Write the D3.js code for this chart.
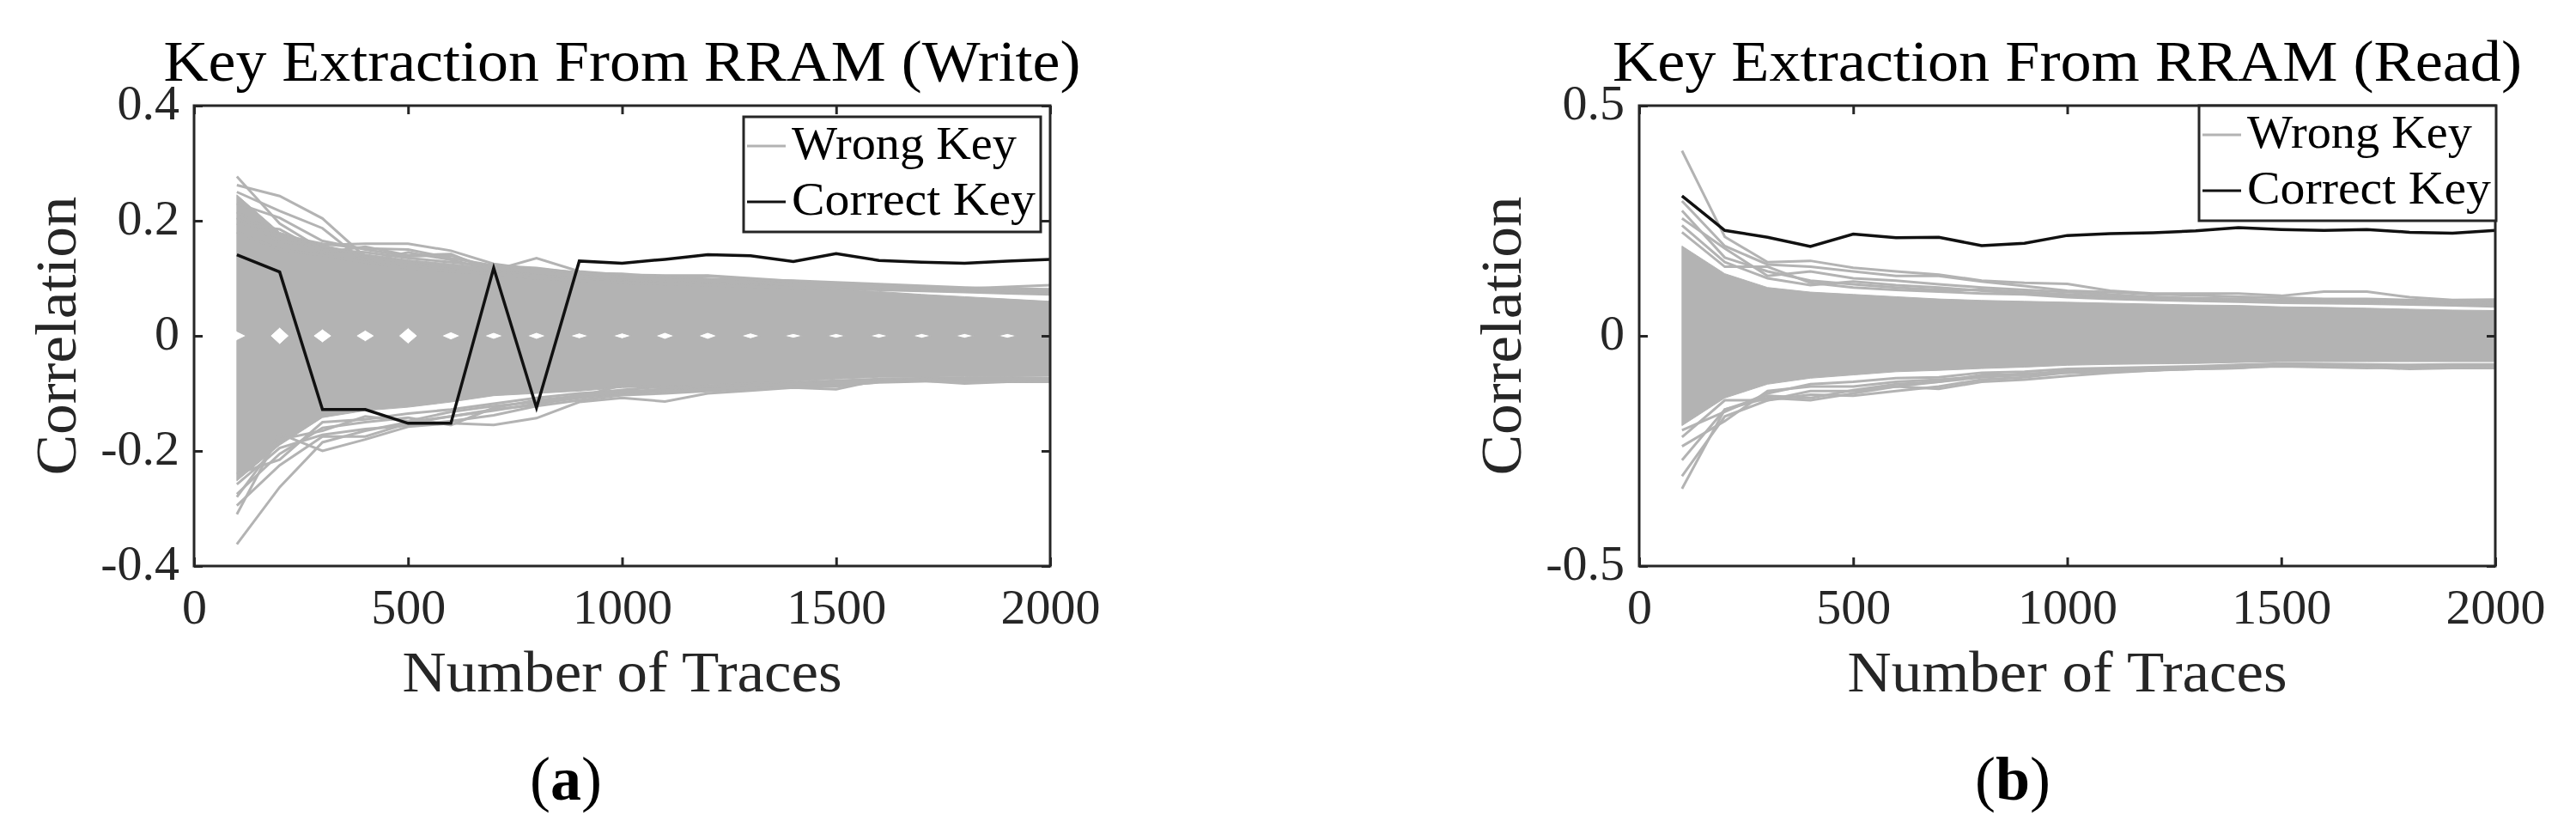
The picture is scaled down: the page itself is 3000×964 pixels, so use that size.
<!DOCTYPE html>
<html>
<head>
<meta charset="utf-8">
<script src="https://d3js.org/d3.v7.min.js"></script>
<style>
  body { margin: 0; background: #fff; }
  svg text { font-family: "Liberation Serif", "DejaVu Serif", serif; }
</style>
</head>
<body>
<div id="chart"></div>
<script>
// number of traces (x positions of every sample)
var traceCounts = [100,200,300,400,500,600,700,800,900,1000,1100,1200,1300,1400,1500,1600,1700,1800,1900,2000];

// ---- (a) write ----
var writeCorrectKey = [0.141,0.111,-0.128,-0.128,-0.152,-0.152,0.118,-0.125,0.130,0.126,0.133,0.141,0.139,0.129,0.143,0.131,0.128,0.126,0.130,0.133];
// dense part of the wrong key traces (upper / lower edge of the solid band)
var writeCoreHi = [0.245,0.180,0.158,0.142,0.132,0.125,0.118,0.112,0.105,0.100,0.097,0.094,0.090,0.086,0.081,0.077,0.072,0.068,0.064,0.060];
var writeCoreLo = [-0.252,-0.190,-0.142,-0.130,-0.124,-0.115,-0.104,-0.100,-0.096,-0.090,-0.088,-0.085,-0.082,-0.079,-0.075,-0.072,-0.072,-0.071,-0.071,-0.070];
// half height of the empty spot around zero at every sample
var writeZeroGap = [0.008,0.015,0.012,0.010,0.014,0.007,0.006,0.006,0.005,0.005,0.006,0.006,0.005,0.004,0.004,0.004,0.004,0.004,0.004,0.003];
// single wrong key traces standing out of the band
var writeWrongKeys = [
  [0.262,0.243,0.204,0.137,0.128,0.115,0.108,0.104,0.100,0.097,0.094,0.092,0.090,0.087,0.085,0.083,0.080,0.078,0.077,0.075],
  [0.250,0.217,0.187,0.128,0.118,0.112,0.108,0.100,0.096,0.092,0.090,0.088,0.086,0.084,0.082,0.080,0.078,0.076,0.074,0.072],
  [0.205,0.163,0.158,0.160,0.160,0.148,0.125,0.115,0.106,0.100,0.099,0.098,0.096,0.094,0.091,0.088,0.085,0.083,0.081,0.080],
  [0.180,0.150,0.140,0.128,0.145,0.132,0.114,0.135,0.112,0.106,0.105,0.105,0.100,0.095,0.090,0.086,0.085,0.082,0.085,0.088],
  [0.277,0.195,0.150,0.145,0.135,0.128,0.120,0.114,0.108,0.104,0.100,0.104,0.098,0.092,0.090,0.087,0.083,0.080,0.078,0.076],
  [0.230,0.205,0.165,0.150,0.138,0.140,0.117,0.110,0.104,0.098,0.096,0.094,0.092,0.090,0.086,0.083,0.081,0.079,0.076,0.074],
  [0.215,0.175,0.160,0.152,0.150,0.135,0.122,0.118,0.109,0.108,0.102,0.099,0.097,0.096,0.093,0.090,0.087,0.084,0.082,0.081],
  [0.195,0.185,0.145,0.155,0.140,0.142,0.112,0.116,0.110,0.101,0.098,0.096,0.094,0.088,0.088,0.085,0.082,0.081,0.079,0.078],
  [-0.362,-0.263,-0.185,-0.165,-0.150,-0.140,-0.130,-0.118,-0.108,-0.100,-0.096,-0.092,-0.090,-0.086,-0.083,-0.079,-0.078,-0.080,-0.080,-0.079],
  [-0.310,-0.170,-0.200,-0.180,-0.158,-0.152,-0.155,-0.143,-0.115,-0.108,-0.114,-0.100,-0.095,-0.090,-0.093,-0.077,-0.078,-0.083,-0.080,-0.080],
  [-0.295,-0.225,-0.175,-0.175,-0.152,-0.140,-0.128,-0.120,-0.102,-0.094,-0.088,-0.087,-0.083,-0.081,-0.078,-0.075,-0.074,-0.074,-0.073,-0.073],
  [-0.275,-0.205,-0.160,-0.150,-0.142,-0.155,-0.125,-0.112,-0.104,-0.098,-0.092,-0.090,-0.087,-0.083,-0.081,-0.077,-0.075,-0.076,-0.077,-0.075],
  [-0.258,-0.195,-0.172,-0.162,-0.156,-0.148,-0.138,-0.122,-0.112,-0.103,-0.100,-0.096,-0.092,-0.089,-0.086,-0.081,-0.079,-0.077,-0.078,-0.076],
  [-0.240,-0.215,-0.150,-0.145,-0.135,-0.128,-0.118,-0.108,-0.100,-0.095,-0.097,-0.093,-0.090,-0.088,-0.088,-0.080,-0.078,-0.081,-0.079,-0.078],
  [-0.280,-0.180,-0.165,-0.140,-0.148,-0.132,-0.122,-0.115,-0.106,-0.086,-0.090,-0.088,-0.086,-0.084,-0.082,-0.079,-0.076,-0.075,-0.075,-0.074]
];
var writeYTicks = [-0.4,-0.2,0,0.2,0.4];

// ---- (b) read ----
var readCorrectKey = [0.304,0.229,0.214,0.194,0.221,0.213,0.214,0.196,0.201,0.218,0.222,0.224,0.228,0.235,0.231,0.229,0.231,0.225,0.223,0.229];
var readCoreHi = [0.195,0.135,0.105,0.095,0.090,0.085,0.080,0.077,0.075,0.073,0.071,0.069,0.067,0.066,0.063,0.062,0.060,0.058,0.056,0.055];
var readCoreLo = [-0.195,-0.135,-0.105,-0.092,-0.085,-0.078,-0.075,-0.071,-0.068,-0.064,-0.062,-0.061,-0.060,-0.058,-0.056,-0.056,-0.056,-0.056,-0.056,-0.056];
var readWrongKeys = [
  [0.402,0.215,0.160,0.163,0.148,0.140,0.133,0.120,0.115,0.113,0.098,0.092,0.092,0.092,0.087,0.096,0.096,0.084,0.078,0.079],
  [0.293,0.195,0.155,0.150,0.140,0.130,0.130,0.118,0.108,0.098,0.095,0.090,0.088,0.085,0.083,0.080,0.080,0.078,0.075,0.076],
  [0.272,0.170,0.140,0.120,0.112,0.105,0.100,0.100,0.095,0.090,0.086,0.085,0.080,0.078,0.076,0.075,0.074,0.072,0.072,0.071],
  [0.255,0.190,0.130,0.140,0.125,0.120,0.112,0.105,0.100,0.095,0.090,0.084,0.082,0.080,0.078,0.078,0.077,0.075,0.073,0.072],
  [0.240,0.160,0.125,0.110,0.118,0.110,0.105,0.098,0.092,0.087,0.083,0.080,0.078,0.076,0.074,0.073,0.072,0.070,0.068,0.067],
  [0.225,0.150,0.150,0.115,0.105,0.100,0.096,0.092,0.090,0.084,0.080,0.078,0.076,0.074,0.072,0.071,0.070,0.068,0.066,0.064],
  [-0.332,-0.160,-0.135,-0.140,-0.125,-0.110,-0.115,-0.100,-0.095,-0.087,-0.080,-0.075,-0.072,-0.070,-0.062,-0.065,-0.068,-0.072,-0.070,-0.069],
  [-0.305,-0.175,-0.140,-0.128,-0.130,-0.120,-0.110,-0.095,-0.090,-0.080,-0.075,-0.072,-0.070,-0.068,-0.066,-0.068,-0.070,-0.068,-0.070,-0.070],
  [-0.270,-0.160,-0.130,-0.135,-0.118,-0.105,-0.100,-0.090,-0.085,-0.078,-0.075,-0.074,-0.072,-0.070,-0.065,-0.066,-0.066,-0.070,-0.068,-0.066],
  [-0.240,-0.185,-0.120,-0.110,-0.110,-0.100,-0.095,-0.088,-0.082,-0.080,-0.078,-0.075,-0.070,-0.066,-0.064,-0.064,-0.066,-0.067,-0.065,-0.064],
  [-0.220,-0.140,-0.140,-0.120,-0.120,-0.110,-0.100,-0.085,-0.085,-0.075,-0.072,-0.070,-0.068,-0.064,-0.062,-0.063,-0.064,-0.066,-0.066,-0.065],
  [-0.205,-0.165,-0.125,-0.105,-0.100,-0.092,-0.090,-0.080,-0.078,-0.072,-0.070,-0.068,-0.066,-0.063,-0.060,-0.061,-0.062,-0.063,-0.062,-0.062]
];
var readYTicks = [-0.5,0,0.5];

var xTicks = [0,500,1000,1500,2000];
var legendLabels = ["Wrong Key","Correct Key"];

var grey = "#b3b3b3";
var axisColor = "#262626";

var svg = d3.select("#chart")
  .append("svg")
  .attr("width", 3000)
  .attr("height", 964);

// draws one of the two figures
var drawPanel = function(p)
{
  var x = d3.scaleLinear().domain([0,2000]).range([p.left, p.right]);
  var y = d3.scaleLinear().domain(p.yDomain).range([p.bottom, p.top]);
  var g = svg.append("g").attr("id", p.id);

  var line = d3.line().x(function(d){ return x(d[0]); }).y(function(d){ return y(d[1]); });

  // solid band of overlapping wrong key traces
  if (p.gap)
  {
    // two halves meeting at zero between samples, leaving the small empty diamonds
    [1,-1].forEach(function(sign)
    {
      var edge = sign > 0 ? p.coreHi : p.coreLo;
      var poly = traceCounts.map(function(t,i){ return [t, edge[i]]; });
      for (var i = traceCounts.length - 1; i >= 0; i--)
      {
        var t = traceCounts[i];
        if (i < traceCounts.length - 1) poly.push([t + p.gapHalfWidth, 0]);
        poly.push([t, sign * p.gap[i]]);
        if (i > 0) poly.push([t - p.gapHalfWidth, 0]);
      }
      g.append("path")
        .attr("d", line(poly) + "Z")
        .attr("fill", grey)
        .attr("stroke", grey)
        .attr("stroke-width", 1);
    });
  }
  else
  {
    var area = d3.area()
      .x(function(d,i){ return x(traceCounts[i]); })
      .y0(function(d,i){ return y(p.coreLo[i]); })
      .y1(function(d,i){ return y(p.coreHi[i]); });
    g.append("path")
      .attr("d", area(traceCounts))
      .attr("fill", grey)
      .attr("stroke", grey)
      .attr("stroke-width", 1);
  }

  // single wrong key traces
  g.selectAll(".wrong")
    .data(p.wrong)
    .enter()
    .append("path")
    .attr("class","wrong")
    .attr("d", function(vals){ return line(traceCounts.map(function(t,i){ return [t, vals[i]]; })); })
    .attr("fill","none")
    .attr("stroke", grey)
    .attr("stroke-width", 3);

  // correct key
  g.append("path")
    .attr("d", line(traceCounts.map(function(t,i){ return [t, p.correct[i]]; })))
    .attr("fill","none")
    .attr("stroke", "#111")
    .attr("stroke-width", 3.5);

  // axes, ticks inside on all four sides
  var bottomAxis = g.append("g")
    .attr("transform","translate(0," + p.bottom + ")")
    .call(d3.axisBottom(x).tickValues(xTicks).tickSizeInner(-10).tickSizeOuter(0).tickPadding(26)
      .tickFormat(function(d){ return String(d); }));
  var leftAxis = g.append("g")
    .attr("transform","translate(" + p.left + ",0)")
    .call(d3.axisLeft(y).tickValues(p.yTicks).tickSizeInner(-10).tickSizeOuter(0).tickPadding(17)
      .tickFormat(function(d){ return d === 0 ? "0" : String(d); }));
  var topAxis = g.append("g")
    .attr("transform","translate(0," + p.top + ")")
    .call(d3.axisTop(x).tickValues(xTicks).tickSizeInner(-10).tickSizeOuter(0).tickFormat(""));
  var rightAxis = g.append("g")
    .attr("transform","translate(" + p.right + ",0)")
    .call(d3.axisRight(y).tickValues(p.yTicks).tickSizeInner(-10).tickSizeOuter(0).tickFormat(""));

  [bottomAxis, leftAxis, topAxis, rightAxis].forEach(function(a)
  {
    a.select(".domain").remove();
    a.selectAll(".tick line").attr("stroke", axisColor).attr("stroke-width", 3);
    a.selectAll(".tick text")
      .attr("fill", axisColor)
      .style("font-family", '"Liberation Serif", serif')
      .style("font-size", "58px");
  });
  leftAxis.selectAll(".tick text").attr("dy", "0.27em");

  // box
  g.append("rect")
    .attr("x", p.left).attr("y", p.top)
    .attr("width", p.right - p.left).attr("height", p.bottom - p.top)
    .attr("fill","none")
    .attr("stroke", axisColor)
    .attr("stroke-width", 3);

  // title and axis labels
  var cx = (p.left + p.right) / 2;
  g.append("text")
    .attr("x", cx).attr("y", 94)
    .attr("text-anchor","middle")
    .attr("textLength", p.titleLen)
    .attr("lengthAdjust","spacingAndGlyphs")
    .style("font-size","68px")
    .text(p.title);
  g.append("text")
    .attr("x", cx).attr("y", 805)
    .attr("text-anchor","middle")
    .attr("fill", axisColor)
    .attr("textLength", 512)
    .attr("lengthAdjust","spacingAndGlyphs")
    .style("font-size","68px")
    .text("Number of Traces");
  g.append("text")
    .attr("transform","translate(" + (p.left - 138) + "," + ((p.top + p.bottom) / 2) + ") rotate(-90)")
    .attr("text-anchor","middle")
    .attr("fill", axisColor)
    .attr("textLength", 325)
    .attr("lengthAdjust","spacingAndGlyphs")
    .style("font-size","68px")
    .text("Correlation");

  // legend
  var lg = g.append("g").attr("transform","translate(" + p.legendX + "," + p.legendY + ")");
  lg.append("rect")
    .attr("width", 346).attr("height", 134)
    .attr("fill","#fff")
    .attr("stroke", axisColor)
    .attr("stroke-width", 3);
  var entryColors = [grey, "#111"];
  var entryLen = [262, 284];
  legendLabels.forEach(function(lab, i)
  {
    var ly = 34 + i * 65;
    lg.append("line")
      .attr("x1", 4).attr("x2", 49)
      .attr("y1", ly).attr("y2", ly)
      .attr("stroke", entryColors[i])
      .attr("stroke-width", 3);
    lg.append("text")
      .attr("x", 56).attr("y", ly + 15)
      .attr("textLength", entryLen[i])
      .attr("lengthAdjust","spacingAndGlyphs")
      .style("font-size","54px")
      .text(lab);
  });

  // caption (a) / (b)
  var cap = g.append("text")
    .attr("x", p.captionX).attr("y", 931)
    .attr("text-anchor","middle")
    .style("font-size","72px");
  cap.append("tspan").text("(");
  cap.append("tspan").attr("font-weight","bold").text(p.caption);
  cap.append("tspan").text(")");
};

drawPanel({
  id: "write", left: 226, right: 1223, top: 123, bottom: 659,
  yDomain: [-0.4,0.4], yTicks: writeYTicks,
  title: "Key Extraction From RRAM (Write)", titleLen: 1068,
  coreHi: writeCoreHi, coreLo: writeCoreLo, gap: writeZeroGap, gapHalfWidth: 22,
  wrong: writeWrongKeys, correct: writeCorrectKey,
  legendX: 866, legendY: 136, caption: "a", captionX: 659
});

drawPanel({
  id: "read", left: 1909, right: 2906, top: 123, bottom: 659,
  yDomain: [-0.5,0.5], yTicks: readYTicks,
  title: "Key Extraction From RRAM (Read)", titleLen: 1059,
  coreHi: readCoreHi, coreLo: readCoreLo, gap: null,
  wrong: readWrongKeys, correct: readCorrectKey,
  legendX: 2561, legendY: 123, caption: "b", captionX: 2344
});
</script>
</body>
</html>
